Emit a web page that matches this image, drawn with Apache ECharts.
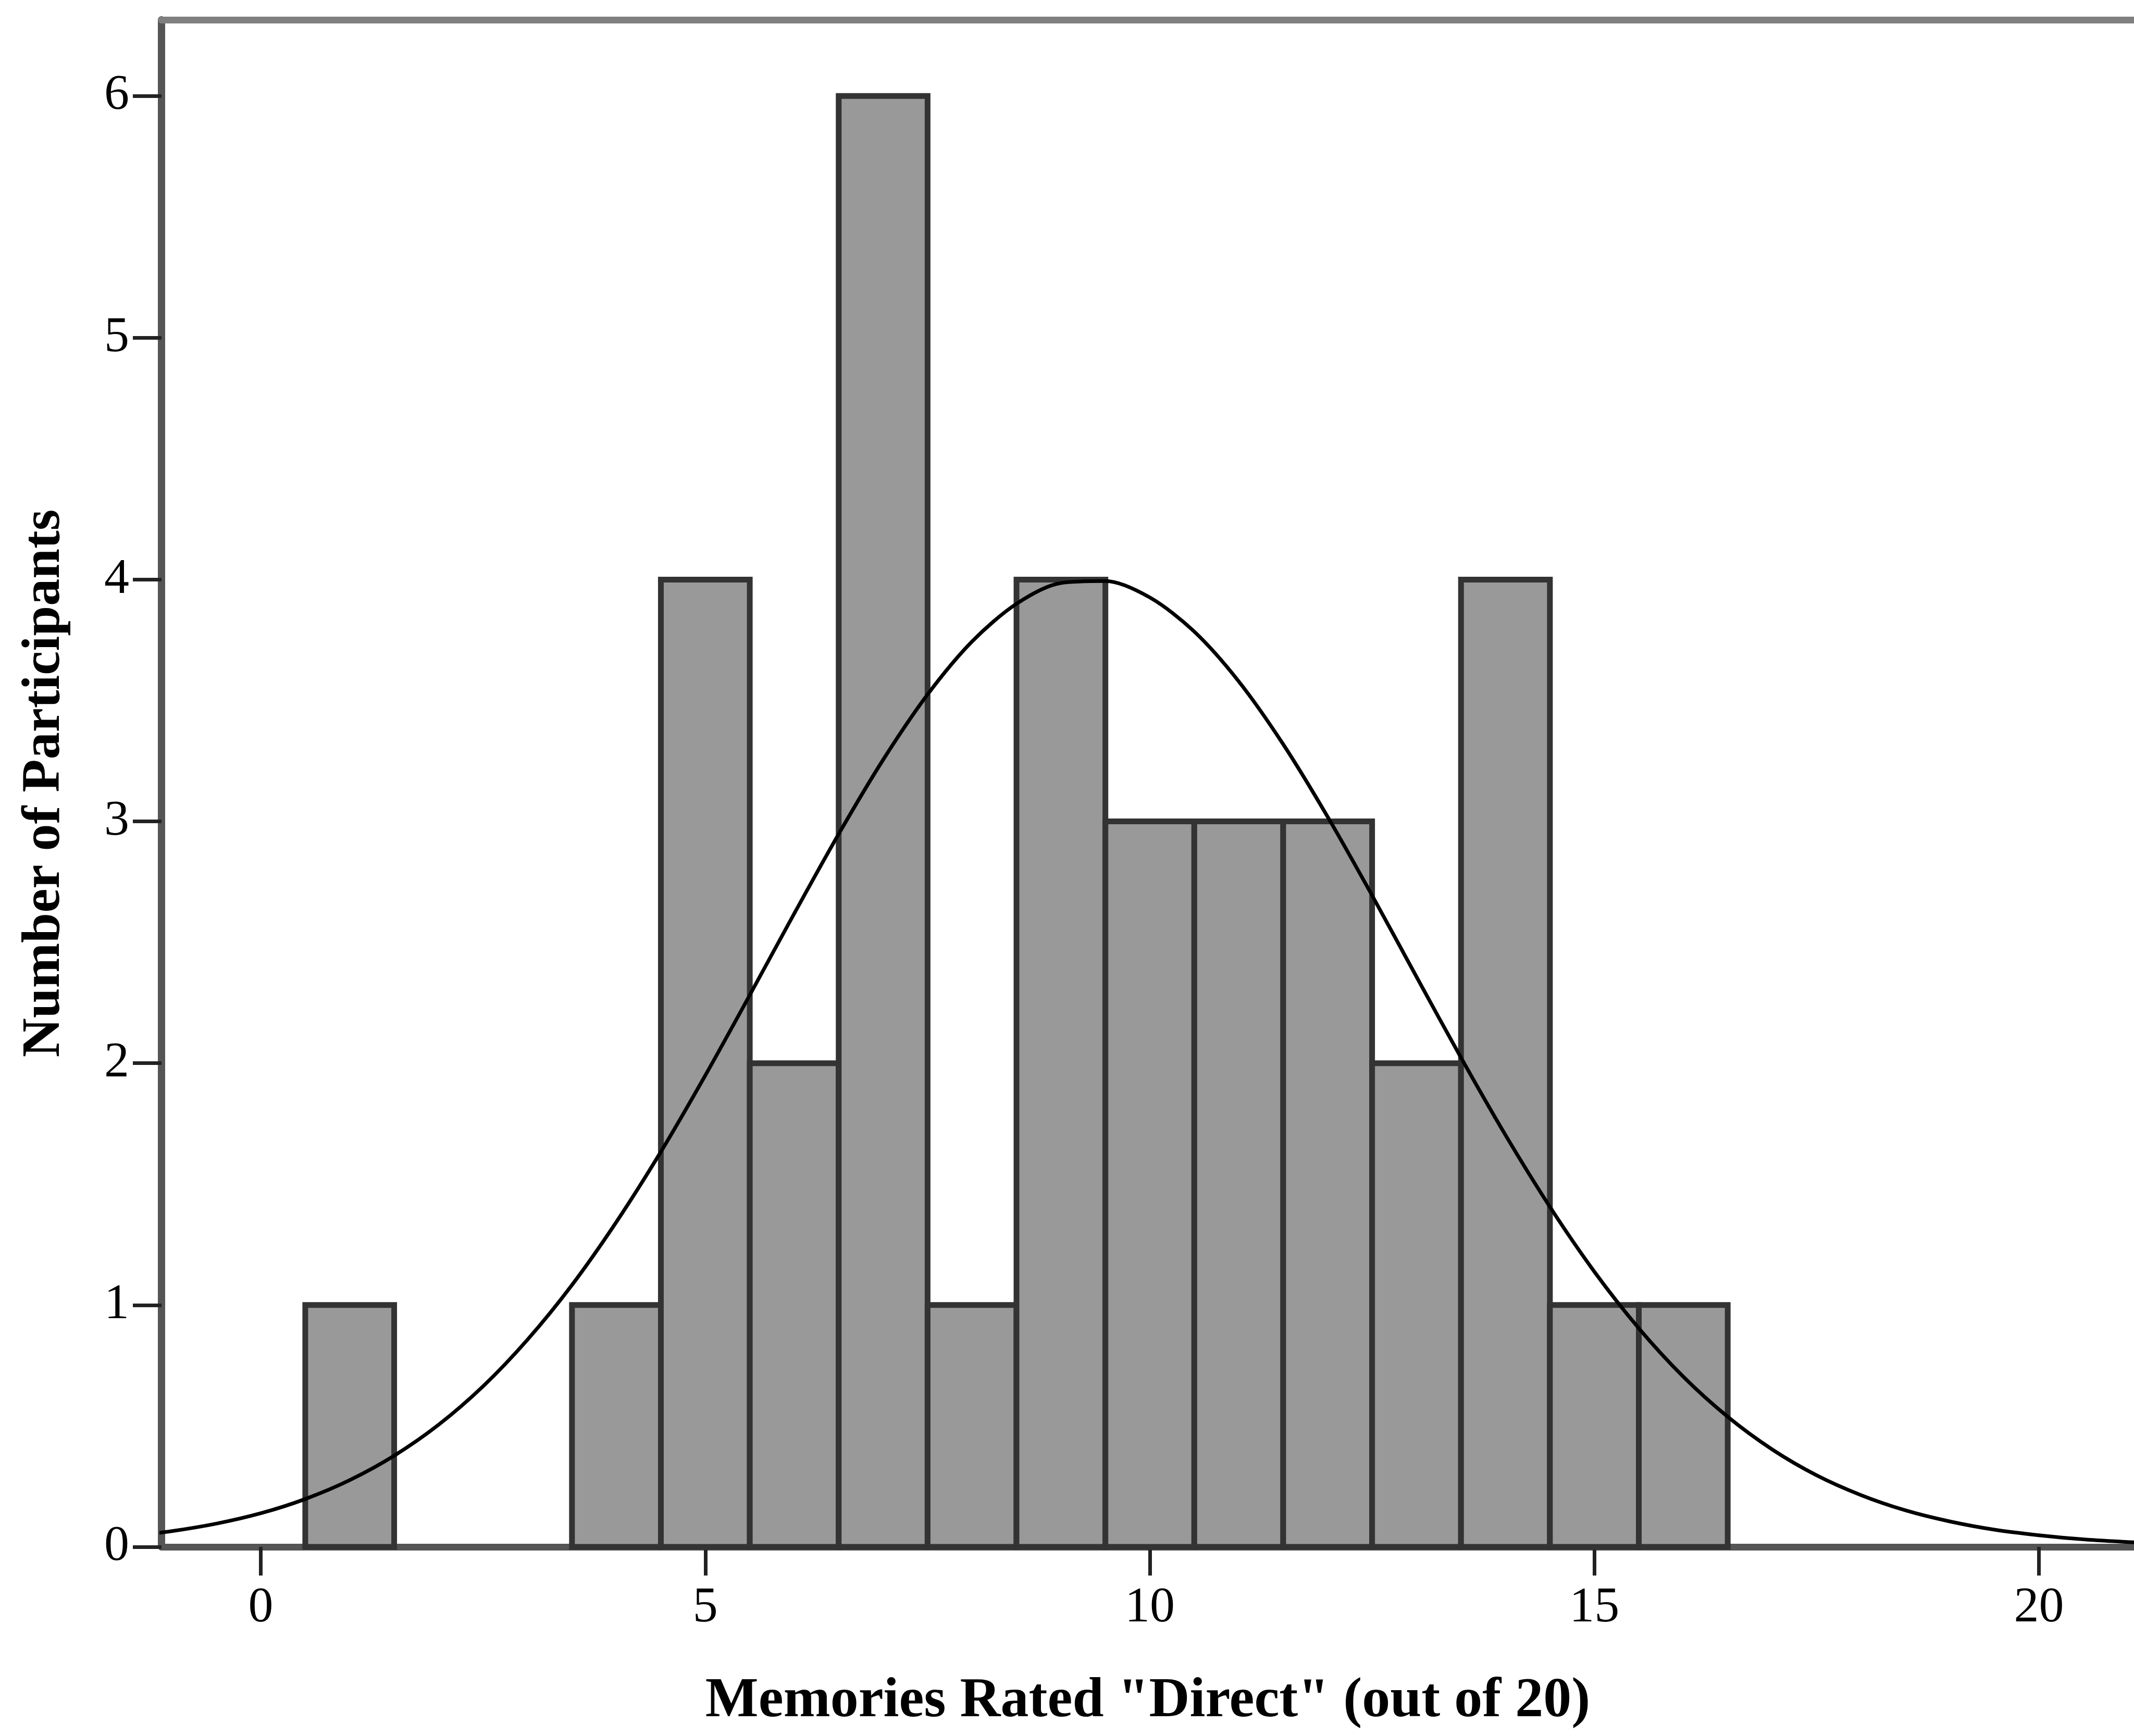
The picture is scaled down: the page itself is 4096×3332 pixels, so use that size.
<!DOCTYPE html>
<html>
<head>
<meta charset="utf-8">
<script src="https://cdn.jsdelivr.net/npm/echarts@6/dist/echarts.min.js"></script>
<style>
  html, body { margin: 0; padding: 0; background: #fff; }
  #hist { width: 4096px; height: 3332px; }
</style>
</head>
<body>
<div id="hist"></div>
<script>
// histogram bins (centre of each bin) and number of participants in each
const binCenters = [1, 4, 5, 6, 7, 8, 9, 10, 11, 12, 13, 14, 15, 16];
const counts = [1, 1, 4, 2, 6, 1, 4, 3, 3, 3, 2, 4, 1, 1];

// normal curve
const curveX = [-1.5, -1, -0.5, 0, 0.5, 1, 1.5, 2, 2.5, 3, 3.5, 4, 4.5, 5, 5.5, 6, 6.5, 7, 7.5, 8, 8.5, 9,
  9.5, 10, 10.5, 11, 11.5, 12, 12.5, 13, 13.5, 14, 14.5, 15, 15.5, 16, 16.5, 17, 17.5, 18, 18.5, 19,
  19.5, 20, 20.5, 21, 21.5];
const curveY = [0.043, 0.065, 0.096, 0.139, 0.198, 0.276, 0.377, 0.505, 0.664, 0.857, 1.083, 1.344, 1.634,
  1.950, 2.282, 2.619, 2.948, 3.255, 3.525, 3.744, 3.900, 3.986, 3.994, 3.926, 3.785, 3.579, 3.319,
  3.019, 2.694, 2.357, 2.023, 1.703, 1.406, 1.138, 0.904, 0.704, 0.538, 0.403, 0.296, 0.214, 0.151,
  0.105, 0.071, 0.048, 0.031, 0.020, 0.013];

const xTicks = [0, 5, 10, 15, 20];
const yTicks = [0, 1, 2, 3, 4, 5, 6];

const myChart = echarts.init(document.getElementById('hist'));

const fontFamily = '"Liberation Serif", "DejaVu Serif", serif';

function renderBar(params, api) {
  const x = api.value(0);
  const n = api.value(1);
  if (!n) return null;
  const p0 = api.coord([x - 0.5, n]);
  const p1 = api.coord([x + 0.5, 0]);
  return {
    type: 'rect',
    shape: { x: p0[0], y: p0[1], width: p1[0] - p0[0], height: p1[1] - p0[1] },
    style: { fill: '#999999', stroke: '#333333', lineWidth: 11 }
  };
}

option = {
  backgroundColor: '#ffffff',
  animation: false,
  grid: { left: 310, right: 0, top: 38, bottom: 363, containLabel: false },
  xAxis: [{
    type: 'value',
    min: -1.117,
    max: 21.07,
    name: 'Memories Rated "Direct" (out of 20)',
    nameLocation: 'middle',
    nameGap: 243,
    nameTextStyle: { fontFamily: fontFamily, fontWeight: 'bold', fontSize: 108, color: '#000' },
    axisLine: { show: true, onZero: false, lineStyle: { color: '#555555', width: 13 } },
    axisTick: { show: true, length: 55, customValues: xTicks, lineStyle: { color: '#222222', width: 7 } },
    axisLabel: { customValues: xTicks, margin: 70, fontFamily: fontFamily, fontSize: 96, color: '#000' },
    splitLine: { show: false }
  }, {
    // top frame line
    type: 'value',
    position: 'top',
    min: -1.117,
    max: 21.07,
    axisLine: { show: true, onZero: false, lineStyle: { color: '#808080', width: 13 } },
    axisTick: { show: false },
    axisLabel: { show: false },
    splitLine: { show: false }
  }],
  yAxis: {
    type: 'value',
    min: 0,
    max: 6.315,
    name: 'Number of Participants',
    nameLocation: 'middle',
    nameRotate: 90,
    nameGap: 172,
    nameTextStyle: { fontFamily: fontFamily, fontWeight: 'bold', fontSize: 104, color: '#000' },
    axisLine: { show: true, onZero: false, lineStyle: { color: '#555555', width: 14 } },
    axisTick: { show: true, length: 55, customValues: yTicks, lineStyle: { color: '#222222', width: 7 } },
    axisLabel: { customValues: yTicks, margin: 62, fontFamily: fontFamily, fontSize: 96, color: '#000' },
    splitLine: { show: false }
  },
  series: [{
    type: 'custom',
    renderItem: renderBar,
    encode: { x: 0, y: 1 },
    data: binCenters.map((b, i) => [b, counts[i]]),
    z: 2
  }, {
    type: 'line',
    data: curveX.map((x, i) => [x, curveY[i]]),
    smooth: 0.3,
    showSymbol: false,
    symbol: 'none',
    clip: true,
    lineStyle: { color: '#000000', width: 7 },
    z: 3
  }]
};

myChart.setOption(option);
</script>
</body>
</html>
